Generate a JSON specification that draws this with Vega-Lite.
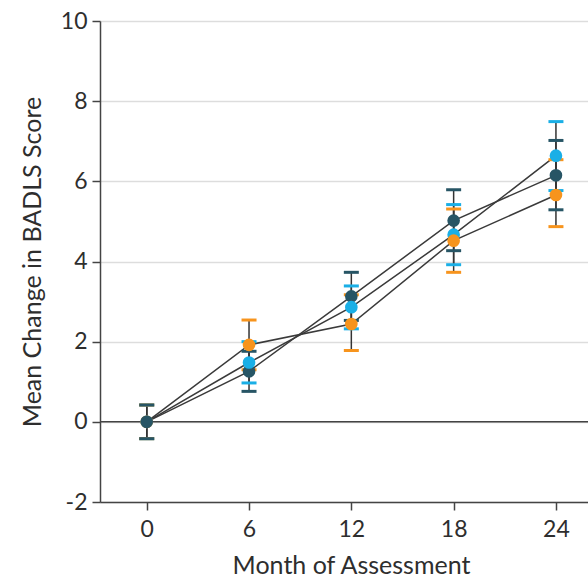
{
  "$schema": "https://vega.github.io/schema/vega-lite/v6.json",
  "width": 488,
  "height": 481,
  "autosize": {"type": "none"},
  "padding": {"left": 100, "top": 21, "right": 0, "bottom": 78},
  "background": "white",
  "config": {
    "view": {"stroke": null},
    "font": "Lato",
    "axis": {
      "labelFont": "Lato",
      "titleFont": "Lato",
      "labelColor": "#2e2e2e",
      "titleColor": "#2e2e2e",
      "titleFontWeight": "normal",
      "domainColor": "#444444",
      "domainWidth": 1.5,
      "tickColor": "#444444",
      "tickWidth": 1.5
    }
  },
  "data": {
    "values": [
      {"month": 0, "group": "Group B", "mean": 0, "lo": -0.42, "hi": 0.42},
      {"month": 0, "group": "Group C", "mean": 0, "lo": -0.42, "hi": 0.42},
      {"month": 0, "group": "Group A", "mean": 0, "lo": -0.42, "hi": 0.42},
      {"month": 6, "group": "Group A", "mean": 1.26, "lo": 0.76, "hi": 1.76},
      {"month": 6, "group": "Group B", "mean": 1.48, "lo": 0.97, "hi": 2.0},
      {"month": 6, "group": "Group C", "mean": 1.92, "lo": 1.3, "hi": 2.54},
      {"month": 12, "group": "Group A", "mean": 3.13, "lo": 2.53, "hi": 3.73},
      {"month": 12, "group": "Group B", "mean": 2.86, "lo": 2.32, "hi": 3.39},
      {"month": 12, "group": "Group C", "mean": 2.44, "lo": 1.78, "hi": 3.17},
      {"month": 18, "group": "Group A", "mean": 5.02, "lo": 4.27, "hi": 5.79},
      {"month": 18, "group": "Group B", "mean": 4.67, "lo": 3.92, "hi": 5.42},
      {"month": 18, "group": "Group C", "mean": 4.52, "lo": 3.73, "hi": 5.31},
      {"month": 24, "group": "Group A", "mean": 6.15, "lo": 5.29, "hi": 7.02},
      {"month": 24, "group": "Group B", "mean": 6.64, "lo": 5.77, "hi": 7.49},
      {"month": 24, "group": "Group C", "mean": 5.66, "lo": 4.87, "hi": 6.54}
    ]
  },
  "encoding": {
    "x": {
      "field": "month",
      "type": "quantitative",
      "scale": {"domain": [-2.74, 25.88], "nice": false, "zero": false},
      "axis": {
        "values": [0, 6, 12, 18, 24],
        "title": "Month of Assessment",
        "titleX": 251,
        "labelFontSize": 23,
        "titleFontSize": 25,
        "tickSize": 8,
        "labelPadding": 8,
        "titlePadding": 12,
        "grid": false
      }
    }
  },
  "layer": [
    {
      "mark": {"type": "rule", "color": "#444444", "strokeWidth": 1.5},
      "data": {"values": [{"zero": 0}]},
      "encoding": {
        "x": null,
        "y": {"field": "zero", "type": "quantitative", "scale": {"domain": [-2, 10], "nice": false}}
      }
    },
    {
      "mark": {"type": "line", "color": "#3a3a3a", "strokeWidth": 1.5},
      "encoding": {
        "y": {
          "field": "mean",
          "type": "quantitative",
          "scale": {"domain": [-2, 10], "nice": false},
          "axis": {
            "values": [-2, 0, 2, 4, 6, 8, 10],
            "labelExpr": "'' + datum.value",
            "title": "Mean Change in BADLS Score",
            "labelFontSize": 23,
            "titleFontSize": 25,
            "tickSize": 8,
            "labelPadding": 5,
            "titlePadding": 15,
            "grid": true,
            "gridColor": "#dddddd",
            "gridWidth": 1.5
          }
        },
        "detail": {"field": "group"}
      }
    },
    {
      "mark": {"type": "rule", "color": "#333333", "strokeWidth": 1.5},
      "encoding": {
        "y": {"field": "lo", "type": "quantitative"},
        "y2": {"field": "hi"}
      }
    },
    {
      "mark": {"type": "tick", "orient": "horizontal", "size": 15, "thickness": 3, "opacity": 1},
      "encoding": {
        "y": {"field": "lo", "type": "quantitative"},
        "color": {"field": "group", "type": "nominal", "scale": {"domain": ["Group A", "Group B", "Group C"], "range": ["#275565", "#1aafe6", "#f7941d"]}, "legend": null}
      }
    },
    {
      "mark": {"type": "tick", "orient": "horizontal", "size": 15, "thickness": 3, "opacity": 1},
      "encoding": {
        "y": {"field": "hi", "type": "quantitative"},
        "color": {"field": "group", "type": "nominal", "legend": null}
      }
    },
    {
      "mark": {"type": "point", "filled": true, "opacity": 1, "size": 160},
      "encoding": {
        "y": {"field": "mean", "type": "quantitative"},
        "color": {"field": "group", "type": "nominal", "legend": null}
      }
    }
  ]
}
